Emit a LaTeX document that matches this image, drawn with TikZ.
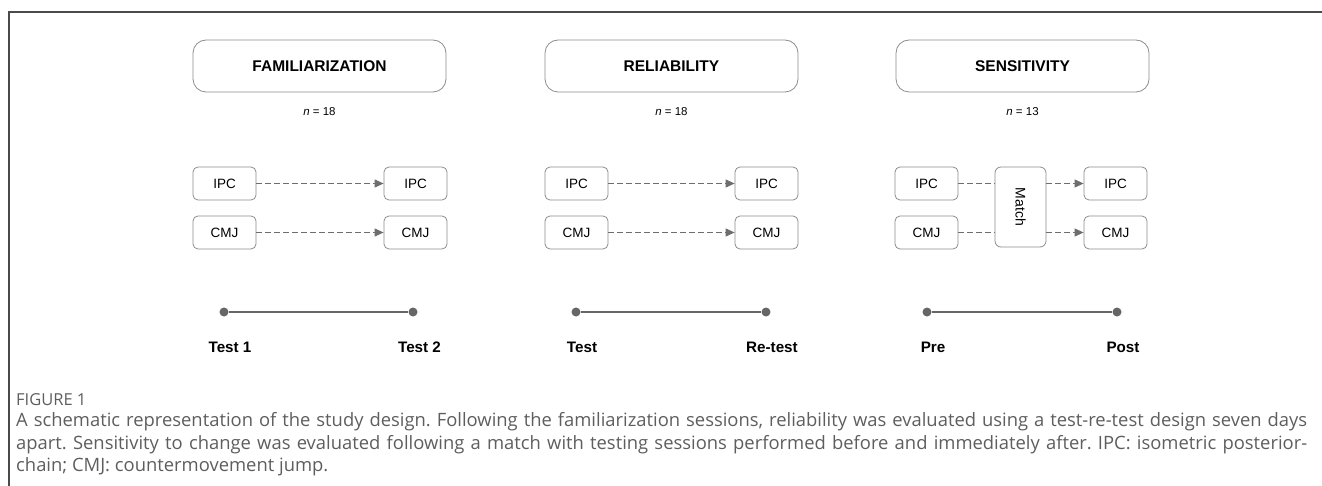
\documentclass[tikz,border=0pt]{standalone}
\usepackage{fontspec}
\setmainfont{Liberation Sans}
\newfontfamily\capfont{Open Sans}
\usetikzlibrary{arrows.meta}
\definecolor{boxgray}{HTML}{8C8C8C}
\definecolor{arrgray}{HTML}{6E6E6E}
\definecolor{dotgray}{HTML}{666666}
\definecolor{framegray}{HTML}{4A4A4A}
\definecolor{capgray}{HTML}{5E5E5E}
\tikzset{
  hdr/.style={draw=boxgray, line width=0.8pt, rounded corners=13pt, minimum width=253pt, minimum height=52pt, inner sep=0pt, font=\fontsize{15.5}{18}\selectfont\bfseries},
  nlabel/.style={inner sep=0pt, font=\fontsize{11.5}{14}\selectfont},
  smallbox/.style={draw=boxgray, line width=0.8pt, rounded corners=5pt, minimum width=63pt, minimum height=33pt, inner sep=0pt, font=\fontsize{13.5}{16}\selectfont},
  matchbox/.style={draw=boxgray, line width=0.8pt, rounded corners=6pt, minimum width=51pt, minimum height=80pt, inner sep=0pt},
  dasharrow/.style={draw=arrgray, line width=1.1pt, dash pattern=on 5.5pt off 3.5pt, -{Triangle[length=9pt,width=8pt]}},
  dashline/.style={draw=arrgray, line width=1.1pt, dash pattern=on 5.5pt off 3.5pt},
  tldot/.style={circle, fill=dotgray, minimum size=9pt, inner sep=0pt},
  tlline/.style={draw=dotgray, line width=2pt},
  tllabel/.style={inner sep=0pt, font=\fontsize{15.2}{18}\selectfont\bfseries},
  captxt/.style={inner sep=0pt, anchor=base west, text=capgray, font=\capfont\fontsize{18.4}{21}\selectfont\frenchspacing},
}
\begin{document}
\begin{tikzpicture}[x=1pt,y=-1pt]
\useasboundingbox (0,0) rectangle (1322,486);
% frame
\draw[framegray, line width=1.2pt] (9,486) -- (9,12) -- (1322,12);

% headers
\node[hdr] (hfam) at (319.5,66) {FAMILIARIZATION};
\node[hdr] (hrel) at (671.5,66) {RELIABILITY};
\node[hdr] (hsen) at (1022.5,66) {SENSITIVITY};
\node[nlabel] (nfam) at (319.5,112) {\textit{n} = 18};
\node[nlabel] (nrel) at (671.5,112) {\textit{n} = 18};
\node[nlabel] (nsen) at (1022.5,112) {\textit{n} = 13};

% familiarization
\node[smallbox] (fi1) at (224.5,183.5) {IPC};
\node[smallbox] (fi2) at (415.5,183.5) {IPC};
\node[smallbox] (fc1) at (224.5,232.5) {CMJ};
\node[smallbox] (fc2) at (415.5,232.5) {CMJ};
\draw[dasharrow] (fi1) -- (fi2);
\draw[dasharrow] (fc1) -- (fc2);

% reliability
\node[smallbox] (ri1) at (576.5,183.5) {IPC};
\node[smallbox] (ri2) at (766.5,183.5) {IPC};
\node[smallbox] (rc1) at (576.5,232.5) {CMJ};
\node[smallbox] (rc2) at (766.5,232.5) {CMJ};
\draw[dasharrow] (ri1) -- (ri2);
\draw[dasharrow] (rc1) -- (rc2);

% sensitivity
\node[smallbox] (si1) at (926.5,183.5) {IPC};
\node[smallbox] (si2) at (1115.5,183.5) {IPC};
\node[smallbox] (sc1) at (926.5,232.5) {CMJ};
\node[smallbox] (sc2) at (1115.5,232.5) {CMJ};
\node[matchbox] (match) at (1020.5,207) {};
\node[rotate=-90, inner sep=0pt, font=\fontsize{14}{16}\selectfont] (mtext) at (match.center) {Match};
\draw[dashline] (si1.east) -- (si1.east -| match.west);
\draw[dashline] (sc1.east) -- (sc1.east -| match.west);
\draw[dasharrow] (si2.west -| match.east) -- (si2.west);
\draw[dasharrow] (sc2.west -| match.east) -- (sc2.west);

% timelines
\node[tldot] (d1) at (224,312) {};
\node[tldot] (d2) at (413,312) {};
\node[tldot] (d3) at (576,312) {};
\node[tldot] (d4) at (766,312) {};
\node[tldot] (d5) at (927,312) {};
\node[tldot] (d6) at (1117,312) {};
\draw[tlline] (d1) -- (d2);
\draw[tlline] (d3) -- (d4);
\draw[tlline] (d5) -- (d6);
\node[tllabel] (l1) at (230,347) {Test 1};
\node[tllabel] (l2) at (419.5,347) {Test 2};
\node[tllabel] (l3) at (582,347) {Test};
\node[tllabel] (l4) at (772,347) {Re-test};
\node[tllabel] (l5) at (933,347) {Pre};
\node[tllabel] (l6) at (1123,347) {Post};

% caption
\node[captxt, font=\capfont\fontsize{16.5}{19}\selectfont] (cap0) at (16,405) {FIGURE 1};
\node[captxt] (cap1) at (16,426.5) {\makebox[1291pt][s]{A schematic representation of the study design. Following the familiarization sessions, reliability was evaluated using a test-re-test design seven days}};
\node[captxt] (cap2) at (16,449.5) {\makebox[1291pt][s]{apart. Sensitivity to change was evaluated following a match with testing sessions performed before and immediately after. IPC: isometric posterior-}};
\node[captxt] (cap3) at (16,471.5) {chain; CMJ: countermovement jump.};
\end{tikzpicture}
\end{document}
